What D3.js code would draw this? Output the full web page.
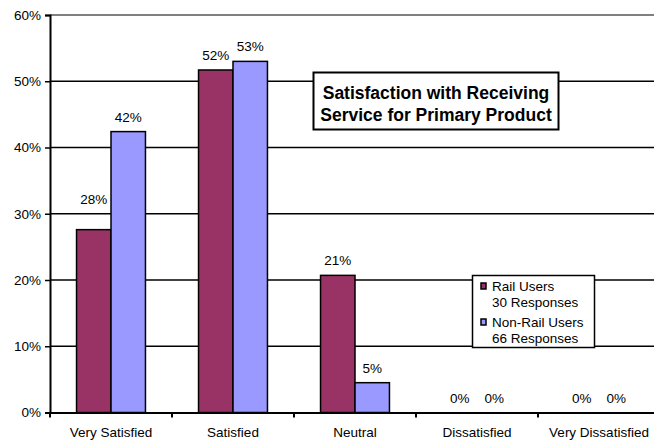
<!DOCTYPE html>
<html>
<head>
<meta charset="utf-8">
<script src="https://cdn.jsdelivr.net/npm/d3@7"></script>
<style>
  html, body { margin: 0; padding: 0; background: #fff; }
  svg { display: block; font-family: "Liberation Sans", Arial, sans-serif; }
</style>
</head>
<body>
<svg id="chart" width="654" height="440"></svg>
<script>
// Satisfaction ratings, share of respondents in each group
const categories = ["Very Satisfied", "Satisfied", "Neutral", "Dissatisfied", "Very Dissatisfied"];
const seriesNames = ["Rail Users", "Non-Rail Users"];
const seriesNotes = ["30 Responses", "66 Responses"];
const railUsers = [0.276, 0.517, 0.207, 0, 0];
const nonRailUsers = [0.424, 0.530, 0.045, 0, 0];
const yTicks = [0, 0.1, 0.2, 0.3, 0.4, 0.5, 0.6];
const titleLines = ["Satisfaction with Receiving", "Service for Primary Product"];

const colors = ["#993366", "#9999FF"];
const seriesValues = [railUsers, nonRailUsers];

const svg = d3.select("#chart");
const plotLeft = 50, plotRight = 660, plotTop = 15, plotBottom = 412.5;

const x = d3.scaleBand().domain(categories).range([plotLeft, plotRight]).padding(0);
const xSub = d3.scaleBand().domain(seriesNames).range([0, x.bandwidth()])
  .paddingInner(0).paddingOuter(0.77);
const y = d3.scaleLinear().domain([0, 0.6]).range([plotBottom, plotTop]);
const pct = d3.format(".0%");

// horizontal gridlines (top one in grey)
svg.append("g").selectAll("line").data(yTicks.filter(d => d > 0)).join("line")
  .attr("x1", plotLeft).attr("x2", 654)
  .attr("y1", d => y(d)).attr("y2", d => y(d))
  .attr("stroke", d => d === 0.6 ? "#808080" : "#000")
  .attr("stroke-width", d => d === 0.6 ? 2 : 1.5);

// y axis
const yAxis = d3.axisLeft(y).tickValues(yTicks).tickFormat(pct).tickSize(5).tickPadding(4);
const gy = svg.append("g").attr("transform", `translate(${plotLeft},0)`).call(yAxis);
gy.select(".domain").attr("stroke", "#000").attr("stroke-width", 2);
gy.selectAll(".tick line").attr("stroke", "#000").attr("stroke-width", 1.5);
gy.selectAll(".tick text").attr("font-size", 13.5).attr("fill", "#000")
  .attr("font-family", "Liberation Sans, Arial, sans-serif");

// bars
const groups = svg.append("g").selectAll("g").data(categories).join("g")
  .attr("transform", d => `translate(${x(d)},0)`);
groups.selectAll("rect")
  .data((c, i) => seriesNames.map((s, k) => ({ s, k, v: seriesValues[k][i] })).filter(d => d.v > 0))
  .join("rect")
  .attr("x", d => xSub(d.s))
  .attr("width", xSub.bandwidth())
  .attr("y", d => y(d.v))
  .attr("height", d => y(0) - y(d.v))
  .attr("fill", d => colors[d.k])
  .attr("stroke", "#000").attr("stroke-width", 1.5);

// value labels; the first rail label sits a little higher
const labelLift = (ci, k) => (ci === 0 && k === 0 ? 31 : 15);
groups.each(function (c, ci) {
  d3.select(this).selectAll("text")
    .data(seriesNames.map((s, k) => ({ s, k, v: seriesValues[k][ci] })))
    .join("text")
    .attr("x", d => xSub(d.s) + xSub.bandwidth() / 2)
    .attr("y", d => y(d.v) - labelLift(ci, d.k) + 5)
    .attr("text-anchor", "middle")
    .attr("font-size", 13.5)
    .text(d => pct(d.v));
});

// x axis
const xAxis = d3.axisBottom(x).tickSize(0).tickPadding(15);
const gx = svg.append("g").attr("transform", `translate(0,${plotBottom})`).call(xAxis);
gx.select(".domain").attr("stroke", "#000").attr("stroke-width", 2);
gx.selectAll(".tick text").attr("font-size", 13.5).attr("fill", "#000")
  .attr("font-family", "Liberation Sans, Arial, sans-serif");
gx.append("g").selectAll("line").data(categories).join("line")
  .attr("x1", d => x(d)).attr("x2", d => x(d))
  .attr("y1", 0).attr("y2", 5)
  .attr("stroke", "#000").attr("stroke-width", 2);

// title box
const title = svg.append("g");
title.append("rect").attr("x", 313.5).attr("y", 72.5).attr("width", 245).attr("height", 57)
  .attr("fill", "#fff").attr("stroke", "#000").attr("stroke-width", 2);
title.selectAll("text").data(titleLines).join("text")
  .attr("x", 436).attr("y", (d, i) => 98.5 + i * 22)
  .attr("text-anchor", "middle")
  .attr("font-size", 17.5).attr("font-weight", "bold")
  .text(d => d);

// legend
const legend = svg.append("g");
legend.append("rect").attr("x", 472.5).attr("y", 275.5).attr("width", 122).attr("height", 72)
  .attr("fill", "#fff").attr("stroke", "#000").attr("stroke-width", 1.5);
const items = legend.selectAll("g").data(seriesNames).join("g")
  .attr("transform", (d, i) => `translate(0,${i * 36})`);
items.append("rect").attr("x", 481).attr("y", 283).attr("width", 5).attr("height", 6)
  .attr("fill", (d, i) => colors[i]).attr("stroke", "#000").attr("stroke-width", 1.5);
items.append("text").attr("x", 492).attr("y", 290.5).attr("font-size", 13.5)
  .text(d => d);
items.append("text").attr("x", 492).attr("y", 306.5).attr("font-size", 13.5)
  .text((d, i) => seriesNotes[i]);
</script>
</body>
</html>
